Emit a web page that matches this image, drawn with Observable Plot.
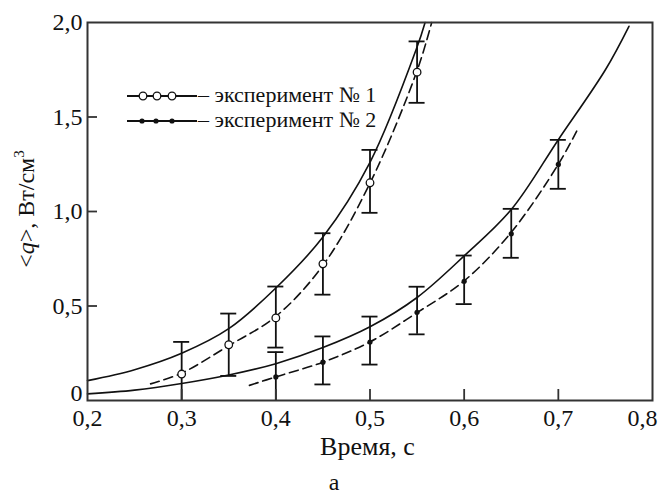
<!DOCTYPE html>
<html><head><meta charset="utf-8">
<script src="https://cdn.jsdelivr.net/npm/d3@7"></script>
<script src="https://cdn.jsdelivr.net/npm/@observablehq/plot@0.6"></script>
<style>
body{margin:0;background:#fff;overflow:hidden}
#chart svg text, #chart svg tspan { font-family: "Liberation Serif", "Times New Roman", serif !important; }
</style>
</head><body><div id="chart"></div>
<script>
// ---- data ----
const xTicks = [0.2, 0.3, 0.4, 0.5, 0.6, 0.7, 0.8];
const yTicks = [0, 0.5, 1.0, 1.5, 2.0];
const innerXTicks = [0.3, 0.4, 0.5, 0.6, 0.7];
const innerYTicks = [0.5, 1.0, 1.5];

// experiment № 1 (open circles)
const exp1X  = [0.30, 0.35, 0.40, 0.45, 0.50, 0.55];
const exp1Y  = [0.14, 0.295, 0.437, 0.723, 1.152, 1.737];
const exp1Lo = [0.00, 0.13, 0.28, 0.56, 0.993, 1.575];
const exp1Hi = [0.31, 0.46, 0.603, 0.885, 1.326, 1.90];

// experiment № 2 (small filled markers)
const exp2X  = [0.40, 0.45, 0.50, 0.55, 0.60, 0.65, 0.70];
const exp2Y  = [0.125, 0.203, 0.309, 0.467, 0.631, 0.882, 1.249];
const exp2Lo = [0.00, 0.085, 0.19, 0.35, 0.51, 0.755, 1.12];
const exp2Hi = [0.256, 0.339, 0.444, 0.602, 0.767, 1.014, 1.379];

// fitted curves
const solid1X  = [0.20, 0.25, 0.30, 0.35, 0.40, 0.45, 0.50, 0.55, 0.5585];
const solid1Y  = [0.105, 0.163, 0.25, 0.38, 0.595, 0.865, 1.26, 1.87, 2.0];
const dashed1X = [0.267, 0.30, 0.35, 0.40, 0.45, 0.50, 0.55, 0.5655];
const dashed1Y = [0.088, 0.145, 0.29, 0.445, 0.715, 1.15, 1.745, 2.0];
const solid2X  = [0.20, 0.25, 0.30, 0.35, 0.40, 0.45, 0.50, 0.55, 0.60, 0.65, 0.70, 0.75, 0.775];
const solid2Y  = [0.035, 0.055, 0.09, 0.135, 0.195, 0.28, 0.39, 0.545, 0.765, 1.01, 1.38, 1.75, 1.98];
const dashed2X = [0.372, 0.40, 0.45, 0.50, 0.55, 0.60, 0.65, 0.70, 0.72];
const dashed2Y = [0.08, 0.125, 0.203, 0.31, 0.465, 0.633, 0.89, 1.25, 1.43];

const legendLabels = ["– эксперимент № 1", "– эксперимент № 2"];
const xLabel = "Время, с";
const panelLabel = "а";

// ---- build tables ----
const zip = (xs, ys) => xs.map((x, i) => ({x, y: ys[i]}));
const exp1 = exp1X.map((x, i) => ({x, y: exp1Y[i], lo: exp1Lo[i], hi: exp1Hi[i]}));
const exp2 = exp2X.map((x, i) => ({x, y: exp2Y[i], lo: exp2Lo[i], hi: exp2Hi[i]}));
const fmt = d => d === 0 ? "0" : d.toFixed(1).replace(".", ",");

const INK = "#111";

function overlay(index, scales, values, dims) {
  const g = d3.create("svg:g").attr("fill", INK).attr("text-anchor", "start");
  const {marginLeft, marginTop, marginBottom, width, height} = dims;
  const cx = (marginLeft + width - dims.marginRight) / 2;
  const cy = (marginTop + height - marginBottom) / 2;
  // y axis title
  const yt = g.append("text")
    .attr("transform", `translate(${34},${cy - 2}) rotate(-90)`)
    .attr("text-anchor", "middle").attr("font-size", 24);
  yt.append("tspan").text("<");
  yt.append("tspan").attr("font-style", "italic").text("q");
  yt.append("tspan").text(">, Вт/см");
  yt.append("tspan").attr("font-size", 15).attr("dy", -10).text("3");
  // x axis title
  g.append("text").attr("x", cx - 2).attr("y", height - marginBottom + 55)
    .attr("text-anchor", "middle").attr("font-size", 26).text(xLabel);
  // panel label
  g.append("text").attr("x", 334).attr("y", height - 4)
    .attr("text-anchor", "middle").attr("font-size", 24).text(panelLabel);
  // legend
  const rows = [96, 121];
  const mx = [[143, 157, 172], [142, 156, 172]];
  legendLabels.forEach((lab, i) => {
    const y = rows[i];
    g.append("line").attr("x1", 127).attr("x2", 197).attr("y1", y).attr("y2", y)
      .attr("stroke", INK).attr("stroke-width", 1.8);
    mx[i].forEach(x => {
      if (i === 0) g.append("circle").attr("cx", x).attr("cy", y).attr("r", 3.8)
        .attr("fill", "white").attr("stroke", INK).attr("stroke-width", 1.3);
      else g.append("circle").attr("cx", x).attr("cy", y).attr("r", 2.6).attr("fill", INK);
    });
    g.append("text").attr("x", 198).attr("y", y + 6).attr("text-anchor", "start")
      .attr("font-size", 22).text(lab);
  });
  return g.node();
}

const curveOpts = {x: "x", y: "y", stroke: INK, strokeWidth: 1.6, curve: "catmull-rom"};
const dashOpts = {...curveOpts, strokeDasharray: "9,5"};
const tickFont = 24;

const plot = Plot.plot({
  width: 659, height: 494,
  marginLeft: 87, marginRight: 7, marginTop: 22, marginBottom: 94,
  x: {domain: [0.2, 0.8]},
  y: {domain: [0, 2]},
  style: {color: INK, background: "white", overflow: "visible"},
  marks: [
    Plot.line(zip(solid1X, solid1Y), curveOpts),
    Plot.line(zip(dashed1X, dashed1Y), dashOpts),
    Plot.line(zip(solid2X, solid2Y), curveOpts),
    Plot.line(zip(dashed2X, dashed2Y), dashOpts),
    // error bars
    Plot.ruleX(exp1, {x: "x", y1: "lo", y2: "hi", stroke: INK, strokeWidth: 1.8}),
    Plot.ruleY(exp1, {y: "hi", x1: "x", x2: "x", insetLeft: -8, insetRight: -8, stroke: INK, strokeWidth: 1.8}),
    Plot.ruleY(exp1.filter(d => d.lo > 0), {y: "lo", x1: "x", x2: "x", insetLeft: -8, insetRight: -8, stroke: INK, strokeWidth: 1.8}),
    Plot.ruleX(exp2, {x: "x", y1: "lo", y2: "hi", stroke: INK, strokeWidth: 1.8}),
    Plot.ruleY(exp2, {y: "hi", x1: "x", x2: "x", insetLeft: -8, insetRight: -8, stroke: INK, strokeWidth: 1.8}),
    Plot.ruleY(exp2.filter(d => d.lo > 0), {y: "lo", x1: "x", x2: "x", insetLeft: -8, insetRight: -8, stroke: INK, strokeWidth: 1.8}),
    // markers
    Plot.dot(exp1, {x: "x", y: "y", r: 3.8, fill: "white", stroke: INK, strokeWidth: 1.3}),
    Plot.dot(exp2, {x: "x", y: "y", r: 2.6, fill: INK, stroke: "none"}),
    // inner ticks
    Plot.ruleX(innerXTicks, {x: d => d, y1: 0, y2: 0, insetBottom: 11, stroke: "#333", strokeWidth: 1.8}),
    Plot.ruleY(innerYTicks, {y: d => d, x1: 0.2, x2: 0.2, insetRight: -10, stroke: "#333", strokeWidth: 1.8}),
    Plot.frame({stroke: "#333", strokeWidth: 2}),
    // axes
    Plot.axisX({ticks: xTicks.slice(0, -1), tickFormat: fmt, tickSize: 0, tickPadding: 8, fontSize: tickFont, label: null}),
    Plot.axisX({ticks: xTicks.slice(-1), tickFormat: fmt, tickSize: 0, tickPadding: 8, fontSize: tickFont, dx: -10, label: null}),
    Plot.axisY({ticks: yTicks.slice(1), tickFormat: fmt, tickSize: 0, tickPadding: 5, fontSize: tickFont, label: null}),
    Plot.axisY({ticks: yTicks.slice(0, 1), tickFormat: fmt, tickSize: 0, tickPadding: 5, fontSize: tickFont, dy: -7, label: null}),
    overlay
  ]
});
document.getElementById("chart").appendChild(plot);
</script>
</body></html>
